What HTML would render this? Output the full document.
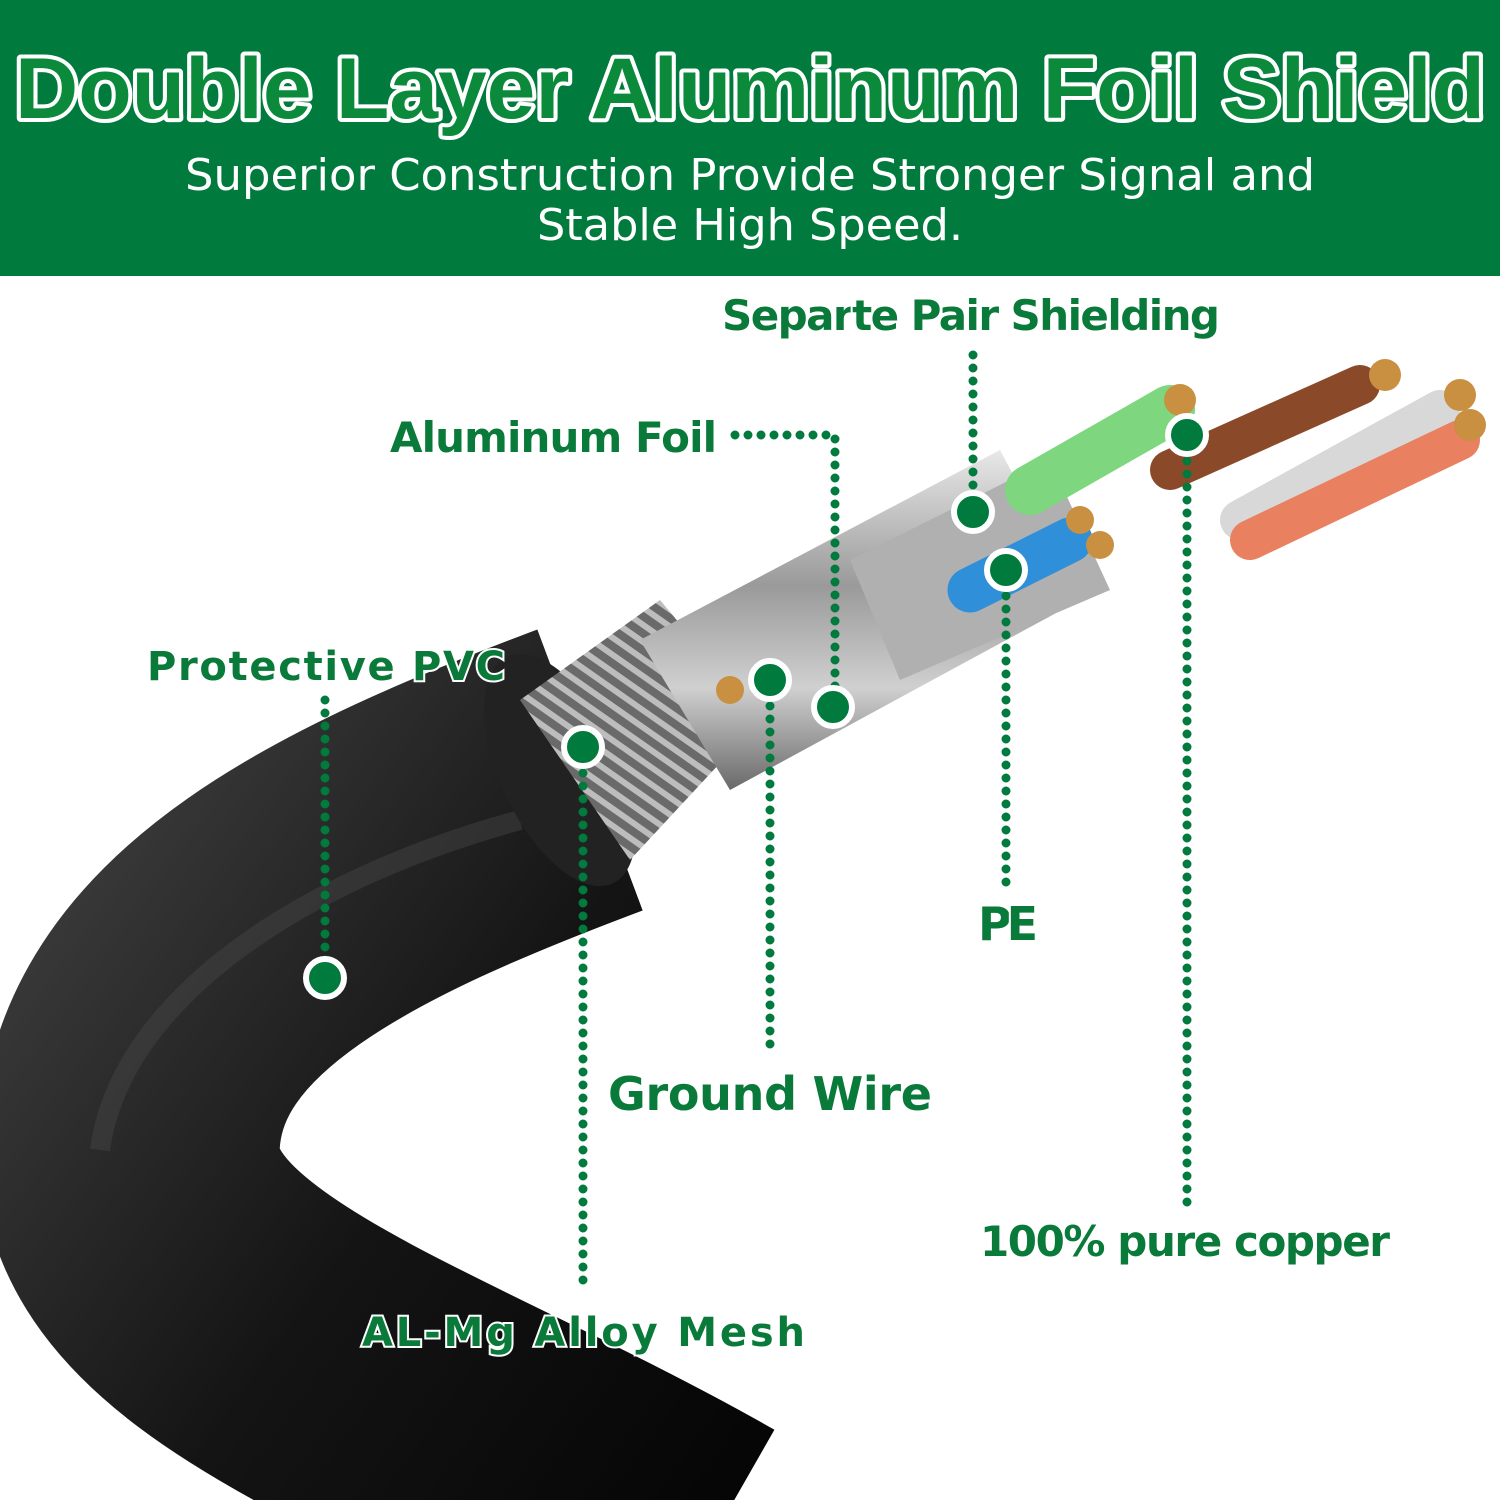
<!DOCTYPE html>
<html><head><meta charset="utf-8"><style>
html,body{margin:0;padding:0;background:#fff;}
body{width:1500px;height:1500px;position:relative;overflow:hidden;font-family:"Liberation Sans",sans-serif;}
</style></head><body>
<svg width="1500" height="1500" viewBox="0 0 1500 1500" xmlns="http://www.w3.org/2000/svg" style="position:absolute;left:0;top:0">
<defs>
<linearGradient id="cab" x1="0" y1="0" x2="1" y2="1">
<stop offset="0" stop-color="#3a3a3a"/><stop offset="0.5" stop-color="#141414"/><stop offset="1" stop-color="#050505"/>
</linearGradient>
<linearGradient id="sil" x1="0" y1="0" x2="0" y2="1">
<stop offset="0" stop-color="#e8e8e8"/><stop offset="0.4" stop-color="#9a9a9a"/><stop offset="0.7" stop-color="#d0d0d0"/><stop offset="1" stop-color="#6a6a6a"/>
</linearGradient>
<pattern id="braid" width="14" height="14" patternUnits="userSpaceOnUse" patternTransform="rotate(35)">
<rect width="14" height="14" fill="#6a6a6a"/><rect width="14" height="6" fill="#bdbdbd"/>
</pattern>
</defs>
<rect x="0" y="0" width="1500" height="276" fill="#007a3d"/>
<text x="750" y="118" text-anchor="middle" font-family="Liberation Sans" font-weight="bold" font-size="86" fill="#0a8a3a" stroke="#ffffff" stroke-width="8" stroke-linejoin="round" paint-order="stroke" textLength="1470" lengthAdjust="spacingAndGlyphs">Double Layer Aluminum Foil Shield</text>
<text x="750" y="190" text-anchor="middle" font-size="44" fill="#fff" font-family="DejaVu Sans" textLength="1130" lengthAdjust="spacingAndGlyphs">Superior Construction Provide Stronger Signal and</text>
<text x="750" y="240" text-anchor="middle" font-size="44" fill="#fff" font-family="DejaVu Sans" textLength="426" lengthAdjust="spacingAndGlyphs">Stable High Speed.</text>

<path d="M700,1560 C420,1400 120,1320 130,1140 C140,960 350,860 590,770" fill="none" stroke="url(#cab)" stroke-width="300"/>
<path d="M100,1150 C120,1000 300,880 520,820" fill="none" stroke="#4a4a4a" stroke-width="20" opacity="0.4"/>
<ellipse cx="560" cy="770" rx="60" ry="125" transform="rotate(-25 560 770)" fill="#222"/>
<polygon points="520,700 660,600 760,720 630,860" fill="url(#braid)"/>
<polygon points="640,640 1000,450 1080,600 730,790" fill="url(#sil)"/>
<polygon points="850,560 1050,460 1110,590 900,680" fill="#b0b0b0"/>
<g stroke-linecap="round">
<line x1="1030" y1="490" x2="1170" y2="410" stroke="#7ed77e" stroke-width="50"/>
<line x1="1170" y1="470" x2="1360" y2="385" stroke="#8a4a2a" stroke-width="40"/>
<line x1="1240" y1="520" x2="1440" y2="410" stroke="#d8d8d8" stroke-width="40"/>
<line x1="1250" y1="540" x2="1460" y2="440" stroke="#e98060" stroke-width="40"/>
<line x1="970" y1="590" x2="1070" y2="540" stroke="#2f8fd8" stroke-width="45"/>
</g>
<g fill="#c89040">
<circle cx="1180" cy="400" r="16"/><circle cx="1385" cy="375" r="16"/><circle cx="1460" cy="395" r="16"/><circle cx="1470" cy="425" r="16"/><circle cx="1080" cy="520" r="14"/><circle cx="1100" cy="545" r="14"/><circle cx="730" cy="690" r="14"/>
</g>

<g stroke="#007a3d" stroke-width="9" stroke-dasharray="0 13" stroke-linecap="round" fill="none">
<path d="M735,435 L835,435 L835,705"/>
<path d="M973,355 L973,512"/>
<path d="M1187,435 L1187,1210"/>
<path d="M1006,570 L1006,890"/>
<path d="M770,680 L770,1055"/>
<path d="M583,747 L583,1290"/>
<path d="M325,700 L325,978"/>
</g>
<g fill="#007a3d" stroke="#fff" stroke-width="6">
<circle cx="833" cy="707" r="19"/><circle cx="973" cy="512" r="19"/><circle cx="1187" cy="435" r="19"/><circle cx="1006" cy="570" r="19"/><circle cx="770" cy="680" r="19"/><circle cx="583" cy="747" r="19"/><circle cx="325" cy="978" r="19"/>
</g>
<g font-family="DejaVu Sans" font-weight="bold" fill="#0a7a3a" stroke="#fff" stroke-width="4" paint-order="stroke" lengthAdjust="spacingAndGlyphs">
<text x="722" y="330" font-size="42" textLength="498">Separte Pair Shielding</text>
<text x="390" y="452" font-size="42" textLength="327">Aluminum Foil</text>
<text x="147" y="680" font-size="40" textLength="358">Protective PVC</text>
<text x="978" y="940" font-size="46" textLength="60">PE</text>
<text x="608" y="1110" font-size="46" textLength="324">Ground Wire</text>
<text x="980" y="1256" font-size="42" textLength="410">100% pure copper</text>
<text x="362" y="1346" font-size="40" textLength="443">AL-Mg Alloy Mesh</text>
</g>
</svg>
</body></html>
